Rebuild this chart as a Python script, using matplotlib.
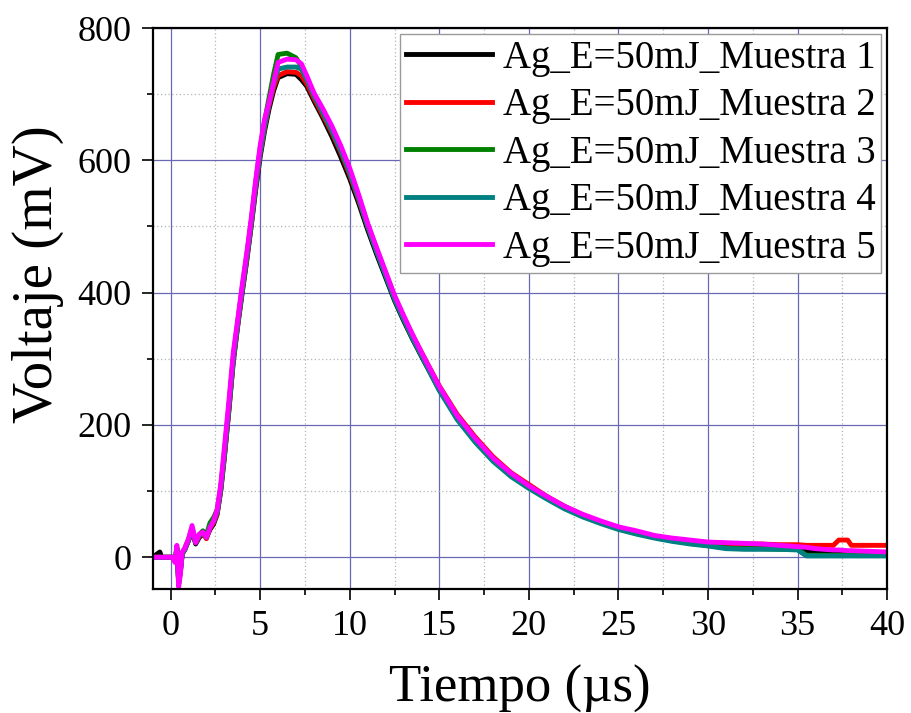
import matplotlib
matplotlib.use("Agg")
import matplotlib.pyplot as plt
from matplotlib.ticker import MultipleLocator

plt.rcParams['font.family'] = ['Liberation Serif', 'DejaVu Serif']

# Time axis (µs), shared by all five samples
t = [-1.0, -0.6, -0.5, 0.1, 0.25, 0.35, 0.45, 0.55, 0.65, 0.8,
     1.0, 1.2, 1.4, 1.6, 1.8, 2.0, 2.2, 2.4, 2.6, 2.8,
     3.0, 3.25, 3.5, 3.75, 4.0, 4.25, 4.5, 4.75, 5.0, 5.25,
     5.5, 5.75, 6.0, 6.5, 7.0, 7.3, 7.6, 8.0, 8.5, 9.0,
     9.5, 10.0, 10.5, 11.0, 11.5, 12.0, 12.5, 13.0, 13.5, 14.0,
     15, 16, 17, 18, 19, 20, 21, 22, 23, 24,
     25, 26, 27, 28, 29, 30, 31, 32, 33, 34,
     35, 35.5, 36, 37, 37.3, 37.8, 38, 39, 40]

# Voltage (mV) per sample
muestra1 = [0, 8, 0, 0, -5, 12, -35, -18, 5, 12,
            25, 40, 20, 30, 35, 30, 42, 50, 65, 100,
            150, 220, 295, 350, 400, 448, 500, 555, 605, 645,
            678, 705, 725, 731, 730, 722, 712, 690, 664, 636,
            605, 572, 535, 495, 458, 423, 388, 358, 330, 304,
            253, 210, 176, 147, 124, 106, 90, 75, 63, 53,
            44, 37, 31, 27, 24, 21, 18, 16, 15, 15,
            14, 10, 8, 8, 8, 7, 7, 6, 6]

muestra2 = [0, 0, 0, 0, -6, 15, -40, -20, 6, 12,
            26, 42, 22, 32, 36, 28, 44, 52, 66, 102,
            152, 222, 298, 352, 403, 450, 503, 560, 610, 650,
            683, 710, 728, 734, 733, 728, 716, 694, 668, 642,
            612, 578, 540, 500, 463, 428, 393, 363, 336, 310,
            259, 216, 182, 152, 128, 110, 92, 77, 64, 53,
            44, 38, 31, 27, 24, 22, 21, 20, 20, 19,
            19, 18, 18, 18, 26, 26, 18, 18, 18]

muestra3 = [0, 0, 0, 0, -5, 14, -38, -20, 6, 14,
            27, 44, 24, 34, 40, 34, 52, 60, 72, 106,
            158, 228, 303, 356, 408, 456, 508, 566, 618, 660,
            695, 730, 760, 762, 755, 742, 725, 700, 674, 648,
            618, 584, 545, 503, 466, 430, 394, 364, 335, 308,
            255, 211, 177, 148, 125, 106, 90, 75, 62, 52,
            43, 36, 30, 25, 21, 18, 14, 13, 13, 12,
            12, 3, 3, 3, 3, 3, 3, 3, 3]

muestra4 = [0, 0, 0, 0, -6, 14, -40, -22, 5, 12,
            26, 42, 22, 33, 37, 30, 46, 54, 68, 104,
            155, 225, 300, 354, 405, 452, 505, 562, 612, 652,
            686, 715, 738, 741, 741, 738, 722, 698, 672, 645,
            615, 581, 542, 500, 462, 426, 390, 360, 331, 305,
            252, 208, 174, 145, 122, 104, 88, 73, 61, 51,
            42, 35, 29, 24, 20, 17, 13, 12, 12, 12,
            11, 2, 2, 2, 2, 2, 2, 2, 2]

muestra5 = [0, 0, 0, 0, -8, 18, -45, -25, 8, 14,
            28, 48, 22, 35, 38, 30, 45, 55, 72, 110,
            165, 235, 310, 360, 412, 460, 512, 570, 622, 662,
            688, 718, 748, 753, 752, 746, 728, 702, 678, 652,
            622, 588, 548, 505, 468, 432, 396, 366, 337, 310,
            258, 214, 180, 150, 127, 108, 92, 77, 65, 55,
            46, 40, 33, 29, 26, 23, 22, 21, 20, 18,
            16, 15, 13, 11, 11, 10, 10, 9, 8]

series = [muestra1, muestra2, muestra3, muestra4, muestra5]
labels = ["Ag_E=50mJ_Muestra 1", "Ag_E=50mJ_Muestra 2", "Ag_E=50mJ_Muestra 3",
          "Ag_E=50mJ_Muestra 4", "Ag_E=50mJ_Muestra 5"]
colors = ["#000000", "#ff0000", "#008000", "#008080", "#ff00ff"]

x_ticks = [0, 5, 10, 15, 20, 25, 30, 35, 40]
y_ticks = [0, 200, 400, 600, 800]

fig = plt.figure(figsize=(9.11, 7.13), dpi=100)
ax = fig.add_axes([0.1676, 0.1739, 0.8062, 0.7868])

for y, lab, c in zip(series, labels, colors):
    ax.plot(t, y, color=c, lw=3.5, label=lab)

ax.set_xlim(-1, 40)
ax.set_ylim(-48, 800)
ax.set_xticks(x_ticks)
ax.set_yticks(y_ticks)
ax.xaxis.set_minor_locator(MultipleLocator(2.5))
ax.yaxis.set_minor_locator(MultipleLocator(100))

ax.set_axisbelow(True)
ax.grid(which='major', color='#6868b4', lw=0.9, ls='-')
ax.grid(which='minor', color='#b4b4b4', lw=0.9, ls=(0, (1, 2)))

for s in ax.spines.values():
    s.set_linewidth(1.6)

ax.tick_params(which='both', direction='out', top=False, right=False, width=1.2)
ax.tick_params(which='major', length=8, labelsize=26, pad=7)
ax.tick_params(which='minor', length=4.5)

ax.set_xlabel("Tiempo (µs)", fontsize=38, labelpad=16)
ax.set_ylabel("Voltaje (mV)", fontsize=41)
ax.yaxis.set_label_coords(-0.121, 0.561)

leg = ax.legend(loc='upper right', fontsize=28, frameon=True, fancybox=False,
                edgecolor='#9a9a9a', framealpha=1.0, borderaxespad=0.15,
                handlelength=2.2, handletextpad=0.28, labelspacing=0.27,
                borderpad=0.15)
leg.get_frame().set_linewidth(1.0)
for line in leg.get_lines():
    line.set_linewidth(3.5)

fig.savefig("out.png", dpi=100)
